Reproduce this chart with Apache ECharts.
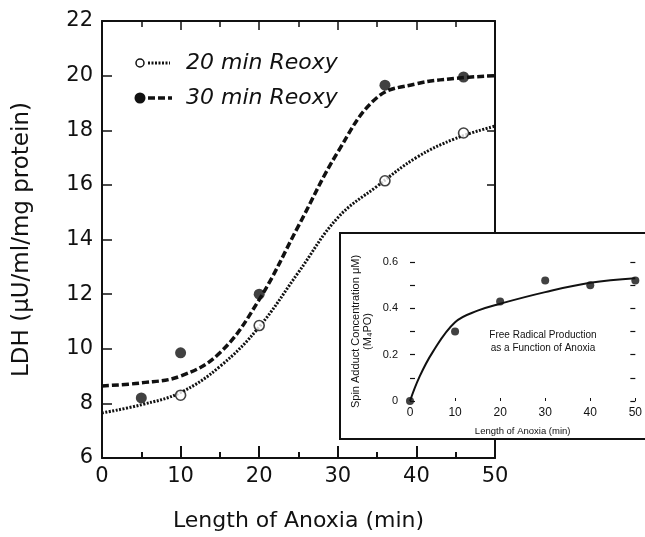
<!DOCTYPE html>
<html>
<head>
<meta charset="utf-8">
<script src="https://cdn.jsdelivr.net/npm/echarts@6/dist/echarts.min.js"></script>
<style>
  html, body { margin: 0; padding: 0; background: #fff; }
  #main { width: 645px; height: 537px; }
</style>
</head>
<body>
<div id="main"></div>
<script>
// main chart: LDH release vs length of anoxia
const pointMinutes = [5, 10, 20, 36, 46];
const ldh20 = [null, 8.3, 10.85, 16.15, 17.9];
const ldh30 = [8.2, 9.85, 12.0, 19.65, 19.95];
const fitMinutes = [0, 5, 10, 15, 20, 25, 30, 35, 40, 45, 50];
const fit20 = [7.65, 7.95, 8.4, 9.35, 10.8, 12.8, 14.8, 15.95, 17.0, 17.7, 18.15];
const fit30 = [8.64, 8.75, 9.0, 9.85, 11.8, 14.5, 17.2, 19.2, 19.7, 19.9, 20.0];

// inset: free radical production
const insetMinutes = [0, 10, 20, 30, 40, 50];
const spinAdduct = [0, 0.30, 0.43, 0.52, 0.50, 0.52];
const insetFitMinutes = [0, 2, 5, 10, 15, 20, 30, 40, 50];
const insetFit = [0, 0.1, 0.21, 0.34, 0.39, 0.42, 0.47, 0.51, 0.53];

const FONT = 'DejaVu Sans';
const SMALL_FONT = 'Liberation Sans';

function pairs(xs, ys) {
  const out = [];
  for (let i = 0; i < xs.length; i++) {
    if (ys[i] != null) out.push([xs[i], ys[i]]);
  }
  return out;
}

const chart = echarts.init(document.getElementById('main'));

const option = {
  backgroundColor: '#fff',
  animation: false,
  grid: [
    { left: 102, right: 150, top: 21, bottom: 78 },
    { left: 410, right: 0, top: 262, bottom: 136, z: 20 }
  ],
  xAxis: [
    {
      gridIndex: 0, type: 'value', min: 0, max: 50, interval: 10,
      name: 'Length of Anoxia (min)', nameLocation: 'middle', nameGap: 52,
      nameTextStyle: { fontFamily: FONT, fontSize: 22, color: '#111' },
      axisLine: { onZero: false, lineStyle: { color: '#111', width: 2 } },
      axisTick: { inside: true, length: 12, lineStyle: { color: '#111', width: 2 } },
      minorTick: { show: true, splitNumber: 2, length: 6, lineStyle: { color: '#111', width: 2 } },
      axisLabel: { fontFamily: FONT, fontSize: 21, color: '#111', margin: 8 },
      splitLine: { show: false }
    },
    {
      gridIndex: 0, type: 'value', min: 0, max: 50, interval: 10, position: 'top',
      axisLine: { onZero: false, lineStyle: { color: '#111', width: 2 } },
      axisTick: { inside: true, length: 9, lineStyle: { color: '#111', width: 1.5 } },
      minorTick: { show: true, splitNumber: 2, length: 6, lineStyle: { color: '#111', width: 1.5 } },
      axisLabel: { show: false },
      splitLine: { show: false }
    },
    {
      gridIndex: 1, type: 'value', min: 0, max: 50, interval: 10, z: 20,
      name: 'Length of Anoxia (min)', nameLocation: 'middle', nameGap: 25,
      nameTextStyle: { fontFamily: SMALL_FONT, fontSize: 9.5, color: '#111' },
      axisLine: { show: false, onZero: false },
      axisTick: { inside: true, length: 3, lineStyle: { color: '#111', width: 1 } },
      axisLabel: { fontFamily: SMALL_FONT, fontSize: 12, color: '#111', margin: 6 },
      splitLine: { show: false }
    }
  ],
  yAxis: [
    {
      gridIndex: 0, type: 'value', min: 6, max: 22, interval: 2,
      name: 'LDH (\u03bcU/ml/mg protein)', nameLocation: 'middle', nameGap: 68,
      nameTextStyle: { fontFamily: FONT, fontSize: 23, color: '#111' },
      axisLine: { show: true, onZero: false, lineStyle: { color: '#111', width: 2 } },
      axisTick: { show: true, inside: true, length: 10, lineStyle: { color: '#111', width: 1.5 } },
      axisLabel: { fontFamily: FONT, fontSize: 21, color: '#111', margin: 9 },
      splitLine: { show: false }
    },
    {
      gridIndex: 0, type: 'value', min: 6, max: 22, interval: 2, position: 'right',
      axisLine: { show: true, onZero: false, lineStyle: { color: '#111', width: 2 } },
      axisTick: { show: true, inside: true, length: 8, lineStyle: { color: '#111', width: 1.5 } },
      axisLabel: { show: false },
      splitLine: { show: false }
    },
    {
      gridIndex: 1, type: 'value', min: 0, max: 0.6, interval: 0.2, z: 20,
      name: 'Spin Adduct Concentration \u03bcM)\n(M\u2084PO)', nameLocation: 'middle', nameGap: 36,
      nameTextStyle: { fontFamily: SMALL_FONT, fontSize: 11, color: '#111', lineHeight: 12 },
      axisLine: { show: false, onZero: false },
      axisTick: { show: true, inside: true, length: 5, lineStyle: { color: '#111', width: 1.2 } },
      minorTick: { show: true, splitNumber: 2, length: 5, lineStyle: { color: '#111', width: 1.2 } },
      axisLabel: { fontFamily: SMALL_FONT, fontSize: 11, color: '#111', margin: 12 },
      splitLine: { show: false }
    },
    {
      gridIndex: 1, type: 'value', min: 0, max: 0.6, interval: 0.2, position: 'right', z: 20,
      axisLine: { show: false, onZero: false },
      axisTick: { show: true, inside: true, length: 5, lineStyle: { color: '#111', width: 1.2 } },
      minorTick: { show: true, splitNumber: 2, length: 5, lineStyle: { color: '#111', width: 1.2 } },
      axisLabel: { show: false },
      splitLine: { show: false }
    }
  ],
  graphic: [
    // inset frame, covers the main chart underneath
    {
      type: 'rect', z: 10,
      shape: { x: 340, y: 233, width: 320, height: 206 },
      style: { fill: '#fff', stroke: '#111', lineWidth: 2 }
    },
    {
      type: 'text', z: 25, x: 543, y: 329,
      style: {
        text: 'Free Radical Production\nas a Function of Anoxia',
        fontFamily: SMALL_FONT, fontSize: 10, lineHeight: 13, fill: '#111', align: 'center'
      }
    },
    // legend
    { type: 'circle', z: 5, shape: { cx: 140, cy: 63, r: 4 }, style: { fill: '#fff', stroke: '#111', lineWidth: 1.5 } },
    { type: 'line', z: 5, shape: { x1: 148, y1: 63, x2: 170, y2: 63 }, style: { stroke: '#111', lineWidth: 3, lineDash: [2, 1.5] } },
    { type: 'text', z: 5, x: 186, y: 63, style: { text: '20 min Reoxy', fontFamily: FONT, fontStyle: 'italic', fontSize: 22, fill: '#111', verticalAlign: 'middle' } },
    { type: 'circle', z: 5, shape: { cx: 140, cy: 98, r: 5.5 }, style: { fill: '#111' } },
    { type: 'line', z: 5, shape: { x1: 148, y1: 98, x2: 172, y2: 98 }, style: { stroke: '#111', lineWidth: 3.5, lineDash: [7, 3] } },
    { type: 'text', z: 5, x: 186, y: 98, style: { text: '30 min Reoxy', fontFamily: FONT, fontStyle: 'italic', fontSize: 22, fill: '#111', verticalAlign: 'middle' } }
  ],
  series: [
    {
      name: '20 min Reoxy fit', type: 'line', xAxisIndex: 0, yAxisIndex: 0,
      data: pairs(fitMinutes, fit20), smooth: 0.4, showSymbol: false,
      lineStyle: { color: '#111', width: 3, type: [2, 1.5] }
    },
    {
      name: '30 min Reoxy fit', type: 'line', xAxisIndex: 0, yAxisIndex: 0,
      data: pairs(fitMinutes, fit30), smooth: 0.4, showSymbol: false,
      lineStyle: { color: '#111', width: 3.5, type: [7, 3] }
    },
    {
      name: '20 min Reoxy', type: 'scatter', xAxisIndex: 0, yAxisIndex: 0, z: 3,
      data: pairs(pointMinutes, ldh20), symbol: 'circle', symbolSize: 10,
      itemStyle: { color: '#fff', borderColor: '#111', borderWidth: 1.6 }
    },
    {
      name: '30 min Reoxy', type: 'scatter', xAxisIndex: 0, yAxisIndex: 0, z: 3,
      data: pairs(pointMinutes, ldh30), symbol: 'circle', symbolSize: 11,
      itemStyle: { color: '#111' }
    },
    {
      name: 'Free radical fit', type: 'line', xAxisIndex: 2, yAxisIndex: 2, z: 20,
      data: pairs(insetFitMinutes, insetFit), smooth: 0.4, showSymbol: false,
      lineStyle: { color: '#111', width: 2 }
    },
    {
      name: 'Spin adduct', type: 'scatter', xAxisIndex: 2, yAxisIndex: 2, z: 21,
      data: pairs(insetMinutes, spinAdduct), symbol: 'circle', symbolSize: 8,
      itemStyle: { color: '#111' }
    }
  ]
};

chart.setOption(option);
window.addEventListener('resize', function () {
  chart.resize();
});
</script>
</body>
</html>
